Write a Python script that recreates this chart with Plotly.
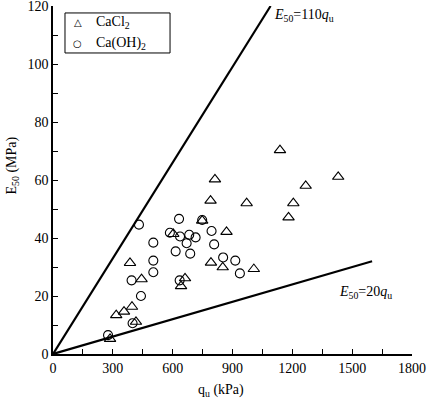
import plotly.graph_objects as go

cacl2_qu = [286, 317, 356, 396, 416, 386, 444, 603, 662, 642, 748, 790, 812, 870,
            792, 851, 971, 1007, 1138, 1181, 1205, 1267, 1430]
cacl2_e50 = [5.2, 13.4, 14.6, 16.3, 11.1, 31.4, 25.8, 41.4, 26.1, 23.4, 46.0, 52.9, 60.2, 42.1,
             31.5, 29.9, 52.0, 29.3, 70.3, 47.1, 52.0, 58.0, 61.1]

caoh2_qu = [276, 399, 441, 394, 431, 503, 503, 503, 586, 615, 632, 637, 683, 670,
            688, 635, 715, 748, 795, 808, 853, 914, 937]
caoh2_e50 = [6.5, 10.6, 20.0, 25.4, 44.6, 38.4, 32.2, 28.2, 41.8, 35.4, 46.6, 40.5, 41.1, 38.2,
             34.6, 25.4, 40.2, 46.2, 42.4, 37.8, 33.3, 32.2, 27.8]

upper_x = [0, 1091]
upper_y = [0, 120]
lower_x = [0, 1600]
lower_y = [0, 32]

series_names = ["CaCl<sub>2</sub>", "Ca(OH)<sub>2</sub>"]
legend_glyphs = ["\u25b3", "\u25cb"]

FONT = "Times New Roman, Liberation Serif, DejaVu Serif, serif"

fig = go.Figure()
fig.add_trace(go.Scatter(x=upper_x, y=upper_y, mode="lines",
                         line=dict(color="black", width=2.2), showlegend=False, hoverinfo="skip"))
fig.add_trace(go.Scatter(x=lower_x, y=lower_y, mode="lines",
                         line=dict(color="black", width=2.2), showlegend=False, hoverinfo="skip"))
fig.add_trace(go.Scatter(x=cacl2_qu, y=cacl2_e50, mode="markers", name=series_names[0],
                         showlegend=False,
                         marker=dict(symbol="triangle-up-open", size=10, color="black",
                                     line=dict(width=1.1, color="black"))))
fig.add_trace(go.Scatter(x=caoh2_qu, y=caoh2_e50, mode="markers", name=series_names[1],
                         showlegend=False,
                         marker=dict(symbol="circle-open", size=9, color="black",
                                     line=dict(width=1.1, color="black"))))

fig.add_annotation(x=1098, y=116.6, xref="x", yref="y", xanchor="left", yanchor="middle",
                   text="<i>E</i><sub>50</sub>=110<i>q</i><sub>u</sub>", showarrow=False,
                   font=dict(family=FONT, size=14, color="black"))
fig.add_annotation(x=1424, y=21.3, xref="x", yref="y", xanchor="left", yanchor="middle",
                   text="<i>E</i><sub>50</sub>=20<i>q</i><sub>u</sub>", showarrow=False,
                   font=dict(family=FONT, size=14, color="black"))
# axis titles
fig.add_annotation(x=-0.114, y=0.542, xref="paper", yref="paper", xanchor="center", yanchor="middle",
                   text="E<sub>50</sub> (MPa)", showarrow=False, textangle=-90,
                   font=dict(family=FONT, size=14, color="black"))
fig.add_annotation(x=0.468, y=-0.106, xref="paper", yref="paper", xanchor="center", yanchor="middle",
                   text="q<sub>u</sub> (kPa)", showarrow=False,
                   font=dict(family=FONT, size=14, color="black"))

# legend box
fig.add_shape(type="rect", xref="paper", yref="paper", x0=0.0334, x1=0.326, y0=0.865, y1=0.980,
              line=dict(color="black", width=1), fillcolor="white", layer="above")
legend_rows_y = [0.952, 0.893]
for glyph, name, yy in zip(legend_glyphs, series_names, legend_rows_y):
    fig.add_annotation(x=0.0696, y=yy, xref="paper", yref="paper", xanchor="center", yanchor="middle",
                       text=glyph, showarrow=False,
                       font=dict(family="DejaVu Sans", size=10, color="black"))
    fig.add_annotation(x=0.114, y=yy, xref="paper", yref="paper", xanchor="left", yanchor="middle",
                       text=name, showarrow=False,
                       font=dict(family=FONT, size=14, color="black"))

axis_common = dict(showgrid=False, zeroline=False, showline=True, linecolor="black",
                   linewidth=1.5, ticks="inside", ticklen=5, tickwidth=1, tickcolor="black",
                   automargin=False, ticklabeloverflow="allow",
                   tickfont=dict(family=FONT, size=14, color="black"))

fig.update_xaxes(range=[0, 1800], tick0=0, dtick=300,
                 minor=dict(ticks="inside", dtick=150, ticklen=5, tickcolor="black", tickwidth=1),
                 **axis_common)
fig.update_yaxes(range=[0, 120], tick0=0, dtick=20,
                 minor=dict(ticks="inside", dtick=10, ticklen=5, tickcolor="black", tickwidth=1),
                 **axis_common)

fig.update_layout(
    width=429, height=398,
    margin=dict(l=53, r=17, t=6, b=44),
    paper_bgcolor="white", plot_bgcolor="white",
    font=dict(family=FONT, size=14, color="black"),
    showlegend=False,
)

fig.write_html("out.html", config={"displayModeBar": False},
               post_script="document.body.style.margin='0';document.body.style.padding='0';")
